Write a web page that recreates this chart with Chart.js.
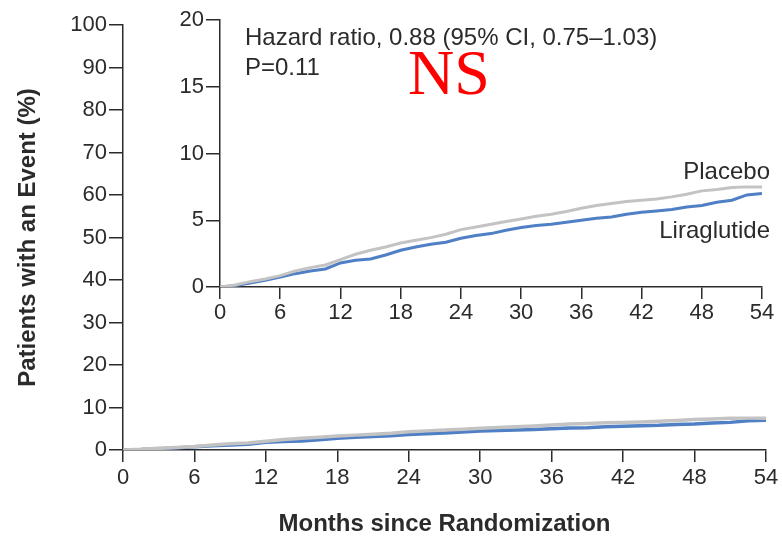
<!DOCTYPE html>
<html>
<head>
<meta charset="utf-8">
<script src="https://cdn.jsdelivr.net/npm/chart.js@4.4.1/dist/chart.umd.min.js"></script>
<style>
  body { margin: 0; background: #fff; }
  #wrap { position: relative; width: 782px; height: 536px; }
  #mainChart { position: absolute; left: 0; top: 0; }
  #insetChart { position: absolute; left: 150px; top: 0; }
</style>
</head>
<body>
<div id="wrap">
  <canvas id="mainChart" width="782" height="536"></canvas>
  <canvas id="insetChart" width="632" height="330"></canvas>
</div>
<script>
// data (cumulative % with event)
const months = [0, 1.5, 3, 4.5, 6, 7.5, 9, 10.5, 12, 13.5, 15, 16.5, 18, 19.5, 21, 22.5, 24, 25.5, 27,
  28.5, 30, 31.5, 33, 34.5, 36, 37.5, 39, 40.5, 42, 43.5, 45, 46.5, 48, 49.5, 51, 52.5, 54];
const placebo = [0, 0.15, 0.4, 0.6, 0.85, 1.2, 1.45, 1.65, 2.05, 2.45, 2.75, 3.0, 3.3, 3.5, 3.7, 3.95, 4.3,
  4.5, 4.7, 4.9, 5.1, 5.3, 5.45, 5.65, 5.9, 6.1, 6.25, 6.4, 6.5, 6.6, 6.75, 6.95, 7.2, 7.3, 7.45, 7.5, 7.5];
const liraglutide = [0, 0.1, 0.3, 0.5, 0.75, 1.0, 1.2, 1.35, 1.8, 2.0, 2.1, 2.4, 2.75, 3.0, 3.2, 3.35, 3.65,
  3.85, 4.0, 4.25, 4.45, 4.6, 4.7, 4.85, 5.0, 5.15, 5.25, 5.45, 5.6, 5.7, 5.8, 6.0, 6.1, 6.35, 6.5, 6.9, 7.0];
const xTicks = [0, 6, 12, 18, 24, 30, 36, 42, 48, 54];
const mainYTicks = [0, 10, 20, 30, 40, 50, 60, 70, 80, 90, 100];
const insetYTicks = [0, 5, 10, 15, 20];

const GRAY = '#c3c3c3';
const BLUE = '#4f7fc4';
const INK = '#2b2b2b';
const SANS = "'Liberation Sans', Arial, sans-serif";
const TICK_FONT = { family: SANS, size: 22 };

function pts(ys) {
  return months.map((m, i) => ({ x: m, y: ys[i] }));
}

function datasets(width) {
  return [
    { label: 'Placebo', data: pts(placebo), borderColor: GRAY, borderWidth: width, pointRadius: 0, tension: 0 },
    { label: 'Liraglutide', data: pts(liraglutide), borderColor: BLUE, borderWidth: width, pointRadius: 0, tension: 0 }
  ];
}

function xScale(height, pad, withTitle) {
  return {
    type: 'linear', min: 0, max: 54,
    afterBuildTicks: s => { s.ticks = xTicks.map(v => ({ value: v })); },
    afterFit: s => { s.height = height; },
    grid: { drawOnChartArea: false, tickLength: 12, color: INK, lineWidth: 1.5 },
    border: { color: INK, width: 1.5 },
    ticks: { color: INK, font: TICK_FONT, padding: pad, maxRotation: 0 },
    title: withTitle ? {
      display: true, text: 'Months since Randomization', color: INK,
      font: { family: SANS, size: 24, weight: 'bold', lineHeight: 1 }, padding: { top: 0, bottom: 0 }
    } : { display: false }
  };
}

function yScale(max, tickVals, width, withTitle) {
  return {
    type: 'linear', min: 0, max: max,
    afterBuildTicks: s => { s.ticks = tickVals.map(v => ({ value: v })); },
    afterFit: s => { s.width = width; },
    grid: { drawOnChartArea: false, tickLength: 14, color: INK, lineWidth: 1.5 },
    border: { color: INK, width: 1.5 },
    ticks: { color: INK, font: TICK_FONT, padding: 2 },
    title: withTitle ? {
      display: true, text: 'Patients with an Event (%)', color: INK,
      font: { family: SANS, size: 24, weight: 'bold', lineHeight: 1 }, padding: { top: 16, bottom: 0 }
    } : { display: false }
  };
}

// main chart, 0-100 scale
new Chart(document.getElementById('mainChart'), {
  type: 'line',
  data: { datasets: datasets(3.5) },
  options: {
    responsive: false, animation: false,
    layout: { padding: { top: 25, right: 16, left: 0, bottom: 0 } },
    plugins: { legend: { display: false }, tooltip: { enabled: false } },
    scales: { x: xScale(86, 3, true), y: yScale(100, mainYTicks, 123, true) }
  }
});

// annotations drawn inside the inset
const insetText = {
  id: 'insetText',
  afterDraw(chart) {
    const ctx = chart.ctx;
    ctx.save();
    ctx.fillStyle = INK;
    ctx.textBaseline = 'alphabetic';
    ctx.font = '24px ' + SANS;
    ctx.textAlign = 'left';
    ctx.fillText('Hazard ratio, 0.88 (95% CI, 0.75\u20131.03)', 95, 45);
    ctx.fillText('P=0.11', 95, 75);
    ctx.textAlign = 'right';
    ctx.fillText('Placebo', 620, 179);
    ctx.fillText('Liraglutide', 620, 238);
    ctx.fillStyle = '#ff0000';
    ctx.font = "64px 'Liberation Serif', serif";
    ctx.textAlign = 'left';
    ctx.fillText('NS', 258, 94);
    ctx.restore();
  }
};

// inset, 0-20 scale
new Chart(document.getElementById('insetChart'), {
  type: 'line',
  data: { datasets: datasets(3) },
  options: {
    responsive: false, animation: false,
    layout: { padding: { top: 20, right: 20, left: 0, bottom: 0 } },
    plugins: { legend: { display: false }, tooltip: { enabled: false } },
    scales: { x: xScale(43, 1, false), y: yScale(20, insetYTicks, 70, false) }
  },
  plugins: [insetText]
});
</script>
</body>
</html>
